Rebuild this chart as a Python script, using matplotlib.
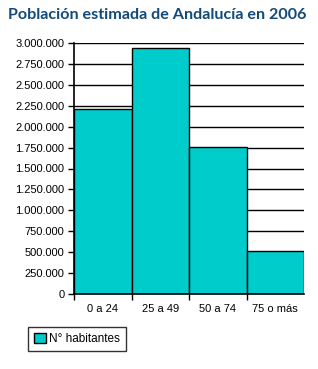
import matplotlib.pyplot as plt
from matplotlib.patches import Patch
from matplotlib.ticker import FuncFormatter, FixedLocator

# datos
grupos = ["0 a 24", "25 a 49", "50 a 74", "75 o más"]
habitantes = [2210000, 2940000, 1760000, 515000]
y_ticks = list(range(0, 3000001, 250000))

plt.rcParams["font.family"] = "Liberation Sans"

fig = plt.figure(figsize=(3.18, 3.69), dpi=100)
ax = fig.add_axes([74 / 318, 75 / 369, 230 / 318, 251 / 369])

# líneas horizontales
for v in y_ticks[1:]:
    ax.axhline(v, color="black", linewidth=1.0, zorder=1)

ax.bar(range(len(grupos)), habitantes, width=1.0, color="#00CCCC",
       edgecolor="black", linewidth=1.0, zorder=2)

ax.set_xlim(-0.5, len(grupos) - 0.5)
ax.set_ylim(0, 3000000)
ax.set_yticks(y_ticks)
ax.yaxis.set_major_formatter(FuncFormatter(lambda v, p: f"{int(v):,}".replace(",", ".")))

ax.set_xticks(range(len(grupos)))
ax.set_xticklabels(grupos)
ax.xaxis.set_minor_locator(FixedLocator([i - 0.5 for i in range(len(grupos))]))
ax.tick_params(axis="x", which="major", length=0, pad=7, labelsize=8)
ax.tick_params(axis="x", which="minor", length=4, width=1, direction="out")
ax.tick_params(axis="y", length=4, width=1, direction="out", labelsize=8, pad=3)

for s in ["top", "right"]:
    ax.spines[s].set_visible(False)
ax.spines["left"].set_linewidth(1.2)
ax.spines["bottom"].set_linewidth(1.2)

fig.text(8 / 318, 1 - 15 / 369, "Población estimada de Andalucía en 2006",
         fontsize=11.6, fontweight="bold", family="Lato", color="#124A7A", va="center")

leg = fig.legend(handles=[Patch(facecolor="#00CCCC", edgecolor="black", label="N° habitantes")],
                 loc="upper left", bbox_to_anchor=(28 / 318, 1 - 327 / 369),
                 frameon=True, fancybox=False, edgecolor="black",
                 prop={"family": "Liberation Sans", "size": 8.5},
                 handlelength=1.0, handleheight=1.0, handletextpad=0.3,
                 borderpad=0.5, borderaxespad=0)
leg.get_frame().set_linewidth(1.0)

plt.savefig("out.png", dpi=100)
